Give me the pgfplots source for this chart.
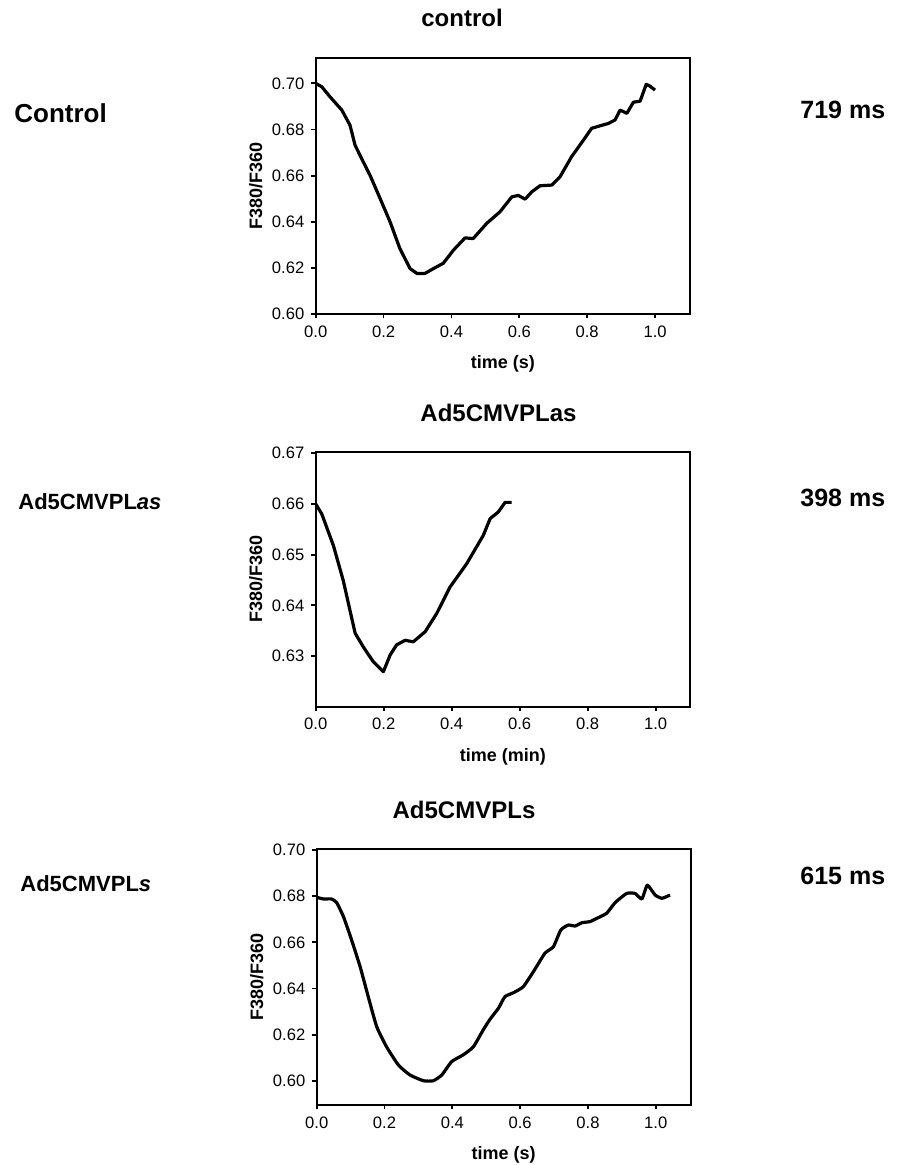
\documentclass[border=0pt]{standalone}
\usepackage{pgfplots}
\pgfplotsset{compat=1.18}
\usepackage{fontspec}
\setmainfont{Liberation Sans}

\pgfplotsset{
  panel/.style={
    scale only axis,
    axis line style={line width=0.9pt},
    xtick pos=bottom, ytick pos=left,
    tick align=outside, major tick length=2.2pt,
    tick style={line width=0.9pt,black},
    xmin=0,
    xtick={0,0.2,0.4,0.6,0.8,1.0},
    /pgf/number format/assume math mode=true,
    tick label style={font=\fontsize{8.3}{9}\selectfont},
    xticklabel style={/pgf/number format/fixed,/pgf/number format/fixed zerofill,/pgf/number format/precision=1},
    yticklabel style={/pgf/number format/fixed,/pgf/number format/fixed zerofill,/pgf/number format/precision=2},
    scaled y ticks=false,
    every axis x label/.style={at={(rel axis cs:0.5,0)},anchor=center,yshift=-25pt,font=\bfseries\fontsize{9}{10}\selectfont},
    every axis y label/.style={at={(rel axis cs:0,0.5)},anchor=center,rotate=90,yshift=30pt,font=\bfseries\fontsize{9}{10}\selectfont},
    ylabel={F380/F360},
  },
  curve/.style={black,line width=1.6pt,line join=round,no marks},
}

\begin{document}
\begin{tikzpicture}
\useasboundingbox (0,0) rectangle (448.5pt,-582.5pt);

% panel 1: control
\begin{axis}[panel,at={(157.85pt,-157pt)},anchor=south west,
  width=187.15pt,height=128pt,
  xmax=1.103,ymin=0.60,ymax=0.711,
  ytick={0.60,0.62,0.64,0.66,0.68,0.70},
  xlabel={time (s)}]
\addplot[curve] coordinates {
(0,0.700) (0.018,0.6985) (0.042,0.6942) (0.077,0.6884) (0.101,0.6819)
(0.116,0.6732) (0.140,0.666) (0.160,0.6602) (0.190,0.650) (0.219,0.640)
(0.248,0.6284) (0.278,0.6197) (0.298,0.6176) (0.322,0.6176) (0.347,0.6197)
(0.376,0.622) (0.406,0.6277) (0.440,0.633) (0.464,0.6327) (0.504,0.6393)
(0.543,0.6443) (0.578,0.6508) (0.597,0.6514) (0.617,0.6498) (0.637,0.653)
(0.661,0.6556) (0.696,0.6559) (0.720,0.6595) (0.754,0.6682) (0.789,0.6754)
(0.813,0.6805) (0.838,0.6816) (0.862,0.6826) (0.882,0.6841) (0.897,0.6884)
(0.917,0.687) (0.936,0.6918) (0.956,0.6923) (0.974,0.6996) (0.985,0.6988)
(1.000,0.6971)};
\end{axis}

% panel 2: Ad5CMVPLas
\begin{axis}[panel,at={(157.85pt,-353.35pt)},anchor=south west,
  width=187.15pt,height=127.5pt,
  xmax=1.101,ymin=0.620,ymax=0.6703,
  ytick={0.63,0.64,0.65,0.66,0.67},
  xlabel={time (min)}]
\addplot[curve] coordinates {
(0,0.660) (0.018,0.658) (0.052,0.6518) (0.081,0.6449) (0.116,0.6345)
(0.140,0.6318) (0.169,0.6289) (0.199,0.6269) (0.219,0.6302) (0.238,0.6322)
(0.263,0.6331) (0.287,0.6328) (0.322,0.6348) (0.356,0.6384) (0.395,0.6436)
(0.444,0.6482) (0.493,0.6538) (0.513,0.6571) (0.537,0.6584) (0.557,0.6603)
(0.576,0.6603)};
\end{axis}

% panel 3: Ad5CMVPLs
\begin{axis}[panel,at={(158.35pt,-552.5pt)},anchor=south west,
  width=187pt,height=127.85pt,
  xmax=1.103,ymin=0.5896,ymax=0.7003,
  ytick={0.60,0.62,0.64,0.66,0.68,0.70},
  xlabel={time (s)}]
\addplot[curve,smooth,tension=0.3] coordinates {
(0,0.6795) (0.020,0.6788) (0.044,0.6788) (0.059,0.6772) (0.079,0.6711)
(0.103,0.661) (0.128,0.6495) (0.152,0.6365) (0.177,0.6235) (0.206,0.6148)
(0.241,0.6069) (0.275,0.6026) (0.315,0.6001) (0.344,0.6001) (0.369,0.6026)
(0.398,0.6084) (0.432,0.6113) (0.462,0.6148) (0.491,0.6221) (0.511,0.6267)
(0.536,0.6315) (0.555,0.6365) (0.580,0.6382) (0.609,0.6408) (0.639,0.6473)
(0.673,0.6553) (0.698,0.6581) (0.720,0.6654) (0.742,0.6675) (0.762,0.6671)
(0.782,0.6685) (0.806,0.6690) (0.826,0.6704) (0.855,0.6726) (0.880,0.6772)
(0.914,0.6812) (0.939,0.6812) (0.959,0.6788) (0.975,0.6848) (0.998,0.6805)
(1.018,0.6791) (1.042,0.6805)};
\end{axis}

% panel titles
\begin{scope}[every node/.style={font=\bfseries\fontsize{12}{14}\selectfont,inner sep=0pt}]
\node[anchor=base] at (231pt,-13.5pt) {control};
\node[anchor=base] at (249.25pt,-211pt) {Ad5CMVPLas};
\node[anchor=base] at (232pt,-409pt) {Ad5CMVPLs};
\end{scope}

% side labels
\begin{scope}[every node/.style={font=\bfseries\fontsize{12.5}{14}\selectfont,inner sep=0pt,anchor=base west}]
\node at (7pt,-61.5pt) {\fontsize{13}{14}\selectfont Control};
\node at (9pt,-254.5pt) {\fontsize{11}{13}\selectfont Ad5CMVPL\textit{as}};
\node at (10pt,-445.5pt) {\fontsize{11}{13}\selectfont Ad5CMVPL\textit{s}};
\node at (400pt,-59.5pt) {719 ms};
\node at (400pt,-253pt) {398 ms};
\node at (400pt,-442pt) {615 ms};
\end{scope}
\end{tikzpicture}
\end{document}
